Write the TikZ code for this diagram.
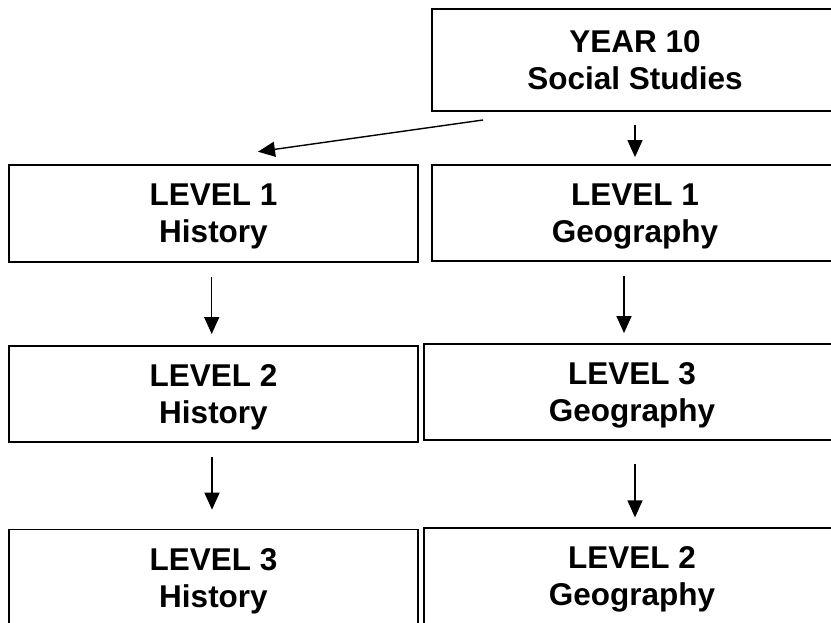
\documentclass[tikz,border=0pt]{standalone}
\usepackage{fontspec}
\setmainfont{Liberation Sans}
\usetikzlibrary{arrows.meta}

\tikzset{
  box/.style={draw, line width=1.8pt, rectangle, inner sep=0pt, align=center,
    text depth=0pt, font=\fontsize{31.5}{37}\selectfont\bfseries,
    minimum width=409pt, minimum height=96.5pt},
  arr/.style={line width=1.4pt, -{Triangle[length=17pt,width=15pt]}}
}

\begin{document}
\begin{tikzpicture}[x=1pt,y=-1pt]
\useasboundingbox (0,0) rectangle (831,623);
\clip (0,0) rectangle (831,623);
% top box
\node[box, minimum width=406pt, minimum height=101.7pt] (year) at (635,60.2) {YEAR 10\\Social Studies};
% left column
\node[box] (hist1) at (213.5,213.5) {LEVEL 1\\History};
\node[box] (hist2) at (213.5,393.9) {LEVEL 2\\History};
\node[box] (hist3) at (213.5,577.8) {LEVEL 3\\History};
% right column
\node[box, minimum width=406pt, minimum height=96pt] (geo1) at (635,213) {LEVEL 1\\Geography};
\node[box, minimum width=416pt, minimum height=96pt] (geo3) at (632,392.3) {LEVEL 3\\Geography};
\node[box, minimum width=416pt, minimum height=96pt] (geo2) at (632,576.3) {LEVEL 2\\Geography};
% arrows
\coordinate (ystart) at (483,120);
\coordinate (hend) at (258,151.7);
\draw[arr] (ystart) -- (hend);
\draw[arr] ([yshift=-13pt]year.south) -- ([yshift=7pt]geo1.north);
\draw[arr] ([xshift=-1.8pt,yshift=-14pt]hist1.south) -- ([xshift=-1.8pt,yshift=10.7pt]hist2.north);
\draw[arr] ([xshift=-1.5pt,yshift=-14pt]hist2.south) -- ([xshift=-1.5pt,yshift=19pt]hist3.north);
\draw[arr] ([xshift=-11pt,yshift=-14pt]geo1.south) -- ([xshift=-8pt,yshift=10.3pt]geo3.north);
\draw[arr] ([xshift=3pt,yshift=-23pt]geo3.south) -- ([xshift=3pt,yshift=10pt]geo2.north);
\end{tikzpicture}
\end{document}
